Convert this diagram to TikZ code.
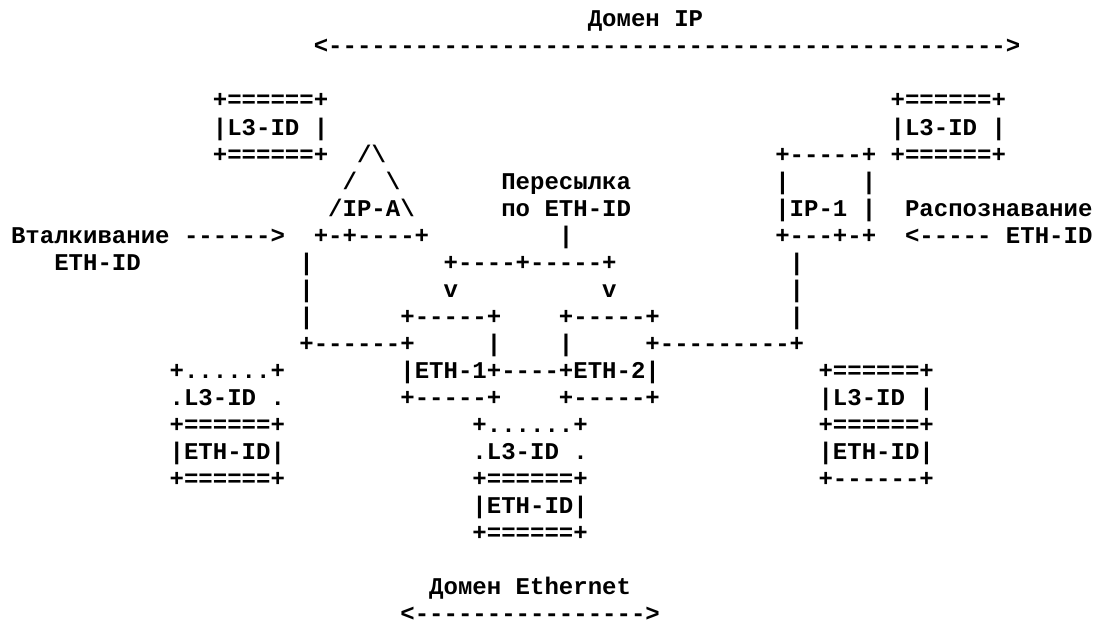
\documentclass[tikz,border=0pt]{standalone}
\usepackage{fontspec}
\setmonofont{Liberation Mono}
\usetikzlibrary{positioning}
\tikzset{
  txt/.style={anchor=base west, inner sep=0pt, outer sep=0pt,
    font=\fontsize{24.03pt}{27pt}\ttfamily\bfseries},
}

\begin{document}
\begin{tikzpicture}[x=14.42pt, y=-27pt]
\useasboundingbox (-0.7628,-1) rectangle (75.312,22.148);

% IP domain span on top
\node[txt] (ipdom) at (40,0) {Домен IP};
\node[txt] (iparrow) at (21,1) {<-----------------------------------------------{}>};

% L3-ID tags and the IP-A / IP-1 hosts
\node[txt] (l3a-t) at (14,3) {+======+};
\node[txt] (l3a) at (14,4) {|L3-ID |};
\node[txt] (l3a-b) at (14,5) {+======+};
\node[txt] (l3b-t) at (61,3) {+======+};
\node[txt] (l3b) at (61,4) {|L3-ID |};
\node[txt] (l3b-b) at (61,5) {+======+};

\node[txt] (ipa-apex) at (24,5) {/\textbackslash};
\node[txt] (ipa-l) at (23,6) {/};
\node[txt] (ipa-r) at (26,6) {\textbackslash};
\node[txt] (ipa) at (22,7) {/IP-A\textbackslash};
\node[txt] (ipa-b) at (21,8) {+-+----+};

\node[txt] (ip1-t) at (53,5) {+-----+};
\node[txt] (ip1-l) at (53,6) {|};
\node[txt] (ip1-r) at (59,6) {|};
\node[txt] (ip1) at (53,7) {|IP-1 |};
\node[txt] (ip1-b) at (53,8) {+---+-+};

% labels at the sides and the middle
\node[txt] (fwd) at (34,6) {Пересылка};
\node[txt] (fwd2) at (34,7) {по ETH-ID};
\node[txt] (fwdbar) at (38,8) {|};
\node[txt] (push) at (0,8) {Вталкивание};
\node[txt] (pusharr) at (12,8) {------{}>};
\node[txt] (push2) at (3,9) {ETH-ID};
\node[txt] (learn) at (62,7) {Распознавание};
\node[txt] (learnarr) at (62,8) {<-----};
\node[txt] (learn2) at (69,8) {ETH-ID};

% links down to the switches
\foreach \r in {9,10,11} {
  \node[txt] (lw\r) at (20,\r) {|};
  \node[txt] (rw\r) at (54,\r) {|};
}
\node[txt] (lw12) at (20,12) {+------+};
\node[txt] (rw12) at (44,12) {+---------+};
\node[txt] (fork) at (30,9) {+----+-----+};
\node[txt] (v1) at (30,10) {v};
\node[txt] (v2) at (41,10) {v};

% ETH-1 and ETH-2
\node[txt] (eth1-t) at (27,11) {+-----+};
\node[txt] (eth2-t) at (38,11) {+-----+};
\node[txt] (eth1-r) at (33,12) {|};
\node[txt] (eth2-l) at (38,12) {|};
\node[txt] (eths) at (27,13) {|ETH-1+----+ETH-2|};
\node[txt] (eth1-b) at (27,14) {+-----+};
\node[txt] (eth2-b) at (38,14) {+-----+};

% frame stacks below
\node[txt] (ha-t) at (11,13) {+......+};
\node[txt] (ha-l3) at (11,14) {.L3-ID .};
\node[txt] (ha-m) at (11,15) {+======+};
\node[txt] (ha-eth) at (11,16) {|ETH-ID|};
\node[txt] (ha-b) at (11,17) {+======+};

\node[txt] (hb-t) at (32,15) {+......+};
\node[txt] (hb-l3) at (32,16) {.L3-ID .};
\node[txt] (hb-m) at (32,17) {+======+};
\node[txt] (hb-eth) at (32,18) {|ETH-ID|};
\node[txt] (hb-b) at (32,19) {+======+};

\node[txt] (hc-t) at (56,13) {+======+};
\node[txt] (hc-l3) at (56,14) {|L3-ID |};
\node[txt] (hc-m) at (56,15) {+======+};
\node[txt] (hc-eth) at (56,16) {|ETH-ID|};
\node[txt] (hc-b) at (56,17) {+------+};

% Ethernet domain span at the bottom
\node[txt] (ethdom) at (29,21) {Домен Ethernet};
\node[txt] (etharrow) at (27,22) {<----------------{}>};

\end{tikzpicture}
\end{document}
